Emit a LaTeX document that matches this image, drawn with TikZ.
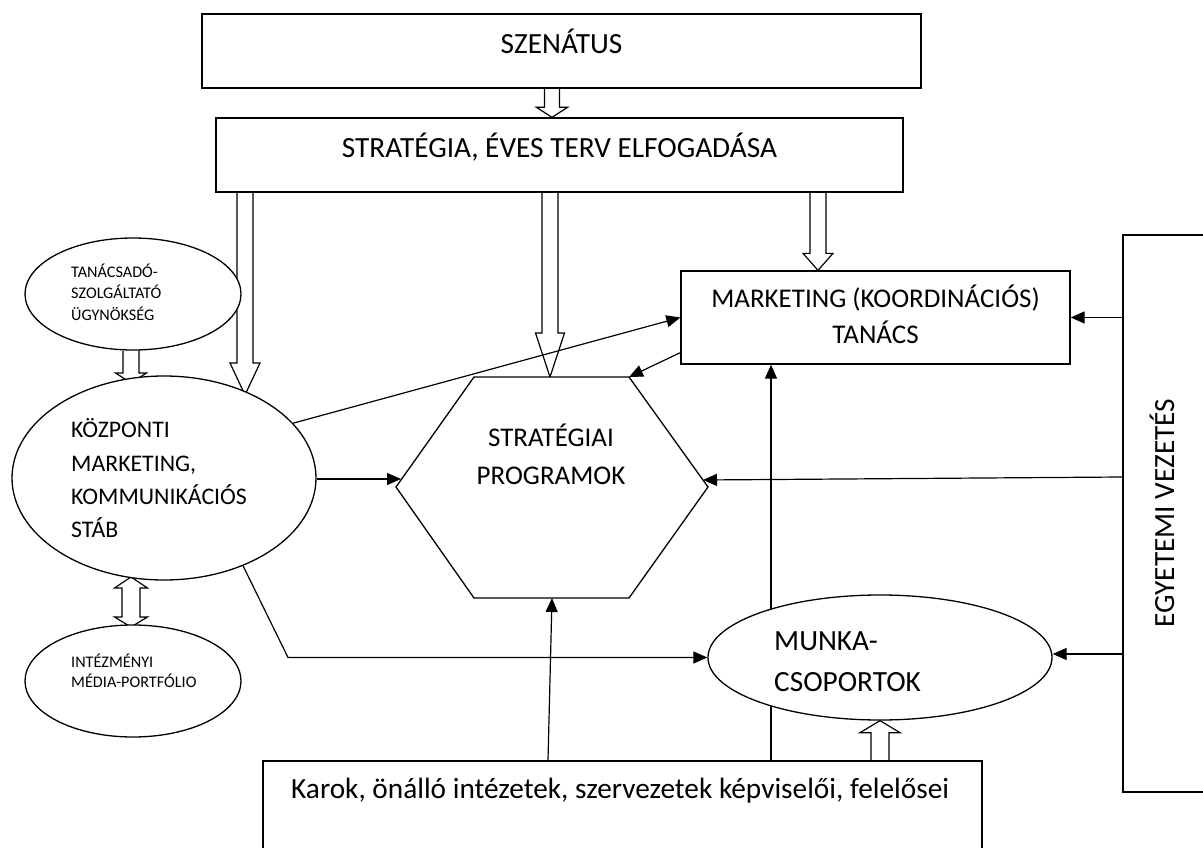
\documentclass[tikz,border=0pt]{standalone}
\usepackage{fontspec}
\setmainfont{Carlito}
\usetikzlibrary{arrows.meta,calc,shapes.geometric,backgrounds}
\newcommand\hollowdown[5]{\draw[hol] let \p1=(#1), \p2=(#2) in
 (\x1-#3pt,\y1) -- (\x1-#3pt,\y2+#5pt) -- (\x1-#4pt,\y2+#5pt) -- (\x1,\y2) -- (\x1+#4pt,\y2+#5pt) -- (\x1+#3pt,\y2+#5pt) -- (\x1+#3pt,\y1);}
\newcommand\hollowup[5]{\draw[hol] let \p1=(#1), \p2=(#2) in
 (\x1-#3pt,\y1) -- (\x1-#3pt,\y2-#5pt) -- (\x1-#4pt,\y2-#5pt) -- (\x1,\y2) -- (\x1+#4pt,\y2-#5pt) -- (\x1+#3pt,\y2-#5pt) -- (\x1+#3pt,\y1);}
\tikzset{
 shp/.style={draw, line width=1.3pt, fill=white, inner sep=0pt},
 lbl/.style={inner sep=0pt, anchor=base},
 lbll/.style={inner sep=0pt, anchor=base west},
 conn/.style={line width=1.2pt, -{Triangle[length=14pt,width=12pt]}},
 hol/.style={line width=1.2pt, fill=white, line join=miter},
 bigf/.style={font=\fontsize{29.3}{34}\selectfont},
 midf/.style={font=\fontsize{27}{38}\selectfont},
 kzf/.style={font=\fontsize{23.8}{33.5}\selectfont},
 smf/.style={font=\fontsize{16.2}{21.5}\selectfont},
}
\begin{document}
\begin{tikzpicture}[x=1pt,y=-1pt]
\useasboundingbox (0,0) rectangle (1203,848);
% shapes
\node[shp, minimum width=719pt, minimum height=74pt] (sz) at (561.5,51) {};
\node[shp, minimum width=687pt, minimum height=74pt] (st) at (559.5,155) {};
\node[shp, minimum width=389pt, minimum height=93pt] (mkt) at (875.5,317.5) {};
\node[shp, minimum width=92pt, minimum height=557pt] (egy) at (1169,513.5) {};
\node[shp, minimum width=719pt, minimum height=119pt] (karok) at (622.5,820.5) {};
\node[shp, ellipse, minimum width=216pt, minimum height=112pt] (tan) at (133,294) {};
\node[shp, ellipse, minimum width=304pt, minimum height=204pt] (kozp) at (164,478) {};
\node[shp, ellipse, minimum width=216pt, minimum height=112pt] (intez) at (133,681) {};
\node[shp, ellipse, minimum width=344pt, minimum height=125pt] (munka) at (880,657.5) {};
\coordinate (hexTL) at (474,377);
\coordinate (hexTR) at (629,377);
\coordinate (hexR) at (708,487);
\coordinate (hexBR) at (629,598);
\coordinate (hexBL) at (474,598);
\coordinate (hexL) at (396,487);
\coordinate (hexLin) at (401,479);
\coordinate (hexRin) at (703,480);
\coordinate (hexB) at (552,598);
\draw[shp] (hexTL) -- (hexTR) -- (hexR) -- (hexBR) -- (hexBL) -- (hexL) -- cycle;
% texts
\node[lbl, bigf] (tsz) at (561.5,54) {SZENÁTUS};
\node[lbl, bigf] (tst) at (559.5,158) {STRATÉGIA, ÉVES TERV ELFOGADÁSA};
\node[lbl, midf] (tmk1) at (875.5,307) {MARKETING (KOORDINÁCIÓS)};
\node[lbl, midf] (tmk2) at (875.5,343) {TANÁCS};
\node[lbl, midf] (hex) at (551,446) {STRATÉGIAI};
\node[lbl, midf] (hex2) at (551,484) {PROGRAMOK};
\node[lbll, smf] (tt1) at (71,277) {TANÁCSADÓ-};
\node[lbll, smf] (tt2) at (71,298) {SZOLGÁLTATÓ};
\node[lbll, smf] (tt3) at (71,320) {ÜGYNÖKSÉG};
\node[lbll, kzf] (tk1) at (71,437) {KÖZPONTI};
\node[lbll, kzf] (tk2) at (71,471) {MARKETING,};
\node[lbll, kzf] (tk3) at (71,504) {KOMMUNIKÁCIÓS};
\node[lbll, kzf] (tk4) at (71,537) {STÁB};
\node[lbll, smf] (ti1) at (71,667) {INTÉZMÉNYI};
\node[lbll, smf] (ti2) at (71,687) {MÉDIA-PORTFÓLIO};
\node[lbll, bigf] (tm1) at (774,650) {MUNKA-};
\node[lbll, bigf] (tm2) at (774,691) {CSOPORTOK};
\node[inner sep=0pt, bigf, rotate=90] (tegy) at (1162,513) {EGYETEMI VEZETÉS};
\node[lbll, bigf] (tkar) at (291,798) {Karok, önálló intézetek, szervezetek képviselői, felelősei};
\begin{pgfonlayer}{background}
\fill[white] (0,0) rectangle (1203,848);
% hollow arrows
\hollowdown{552,0 |- sz.south}{552,0 |- st.north}{7.5}{15.5}{10}
\hollowdown{245,0 |- st.south}{245,395}{8}{15}{32}
\hollowdown{550,0 |- st.south}{550,0 |- hexTL}{8}{14.5}{44}
\hollowdown{818,0 |- st.south}{818,0 |- mkt.north}{8}{15}{17}
\hollowdown{131,0 |- tan.south}{131,383}{8}{15.5}{10}
\hollowup{880,0 |- karok.north}{880,0 |- munka.south}{9}{20}{12}
\draw[hol] (131,577) -- (147.5,588) -- (140,588) -- (140,617) -- (147.5,617) -- (131,627)
 -- (114.5,617) -- (122,617) -- (122,588) -- (114.5,588) -- cycle;
% connectors
\draw[conn] (kozp.23) -- (mkt.west);
\draw[conn] ($(mkt.south west)+(0,-12)$) -- (hexTR);
\draw[conn] (kozp.east |- hexLin) -- (hexLin);
\draw[conn] (egy.west |- 0,477) -- (hexRin);
\draw[conn] (egy.west |- mkt.east) -- (mkt.east);
\draw[conn] (egy.west |- 0,654) -- (munka.east |- 0,654);
\draw[conn] (kozp.-48) -- (288,0 |- munka.west) -- (munka.west);
\draw[conn] (548,0 |- karok.north) -- (hexB);
\draw[conn] (771,0 |- karok.north) -- (771,0 |- mkt.south);
\end{pgfonlayer}
\end{tikzpicture}
\end{document}
